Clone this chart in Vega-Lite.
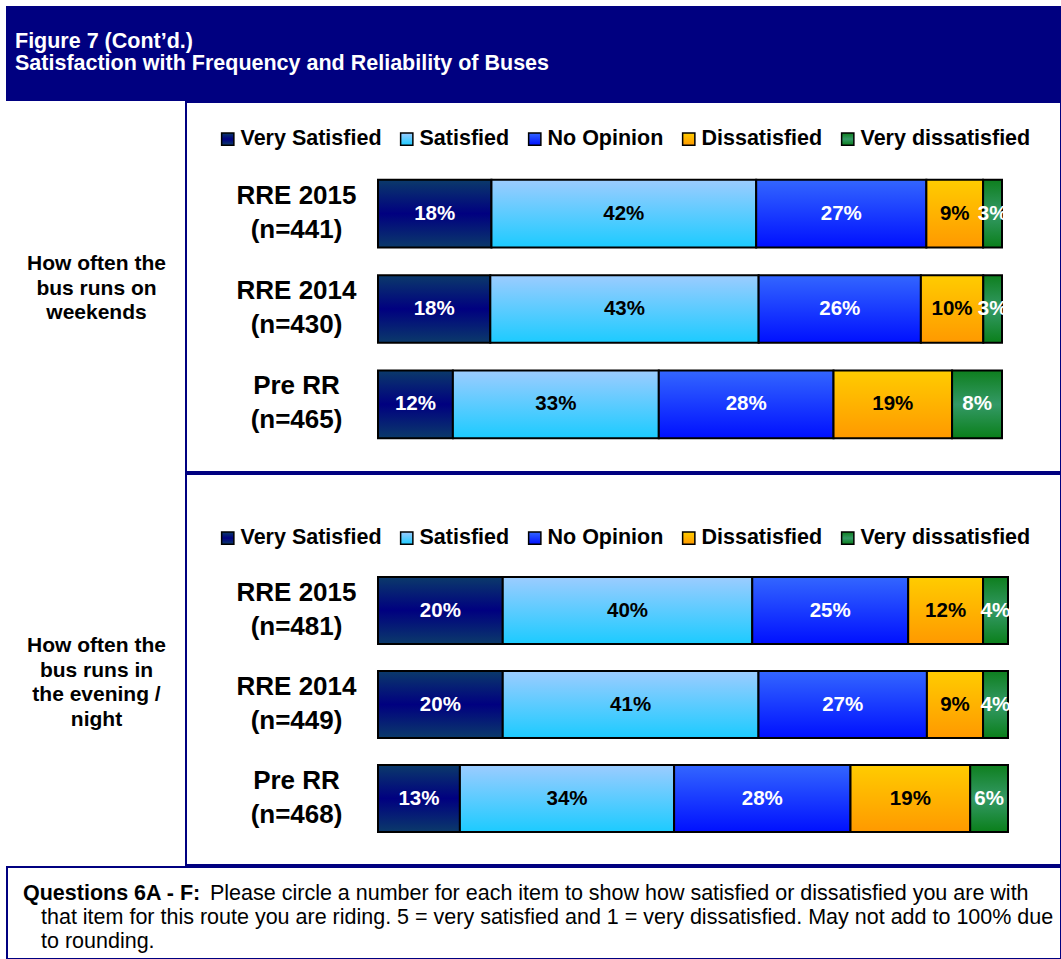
{
  "$schema": "https://vega.github.io/schema/vega-lite/v6.json",
  "background": "white",
  "padding": {"left": 6, "top": 6, "right": 0, "bottom": 0},
  "bounds": "full",
  "spacing": 0,
  "resolve": {"scale": {"color": "independent", "x": "independent", "y": "independent"}, "legend": {"color": "independent"}},
  "config": {
    "font": "Liberation Sans",
    "view": {"stroke": "#000080", "strokeWidth": 2, "fill": "white"}
  },
  "vconcat": [
    {
      "width": 1054,
      "height": 93,
      "view": {"fill": "#000080", "stroke": "#000080"},
      "data": {"values": [{"t": "Figure 7 (Cont’d.)\nSatisfaction with Frequency and Reliability of Buses"}]},
      "mark": {"type": "text", "lineBreak": "\n", "align": "left", "baseline": "alphabetic", "font": "Liberation Sans", "fontWeight": "bold", "fontSize": 21.5, "lineHeight": 22, "color": "white"},
      "encoding": {"text": {"field": "t"}, "x": {"value": 8}, "y": {"value": 41}}
    },
    {
      "hconcat": [
        {
          "width": 179,
          "height": 370,
          "data": {"values": [{"t": "How often the\nbus runs on\nweekends"}]},
          "mark": {"type": "text", "lineBreak": "\n", "align": "center", "baseline": "middle", "font": "Liberation Sans", "fontWeight": "bold", "fontSize": 21, "lineHeight": 24.5, "color": "black", "dy": -23},
          "encoding": {"text": {"field": "t"}}
        },
        {
          "width": 875,
          "height": 370,
          "data": {"values": [
            {"row": "RRE 2015|(n=441)", "cat": "Very Satisfied", "k": 1, "v": 0.18},
            {"row": "RRE 2015|(n=441)", "cat": "Satisfied", "k": 2, "v": 0.42},
            {"row": "RRE 2015|(n=441)", "cat": "No Opinion", "k": 3, "v": 0.27},
            {"row": "RRE 2015|(n=441)", "cat": "Dissatisfied", "k": 4, "v": 0.09},
            {"row": "RRE 2015|(n=441)", "cat": "Very dissatisfied", "k": 5, "v": 0.03},
            {"row": "RRE 2014|(n=430)", "cat": "Very Satisfied", "k": 1, "v": 0.18},
            {"row": "RRE 2014|(n=430)", "cat": "Satisfied", "k": 2, "v": 0.43},
            {"row": "RRE 2014|(n=430)", "cat": "No Opinion", "k": 3, "v": 0.26},
            {"row": "RRE 2014|(n=430)", "cat": "Dissatisfied", "k": 4, "v": 0.10},
            {"row": "RRE 2014|(n=430)", "cat": "Very dissatisfied", "k": 5, "v": 0.03},
            {"row": "Pre RR|(n=465)", "cat": "Very Satisfied", "k": 1, "v": 0.12},
            {"row": "Pre RR|(n=465)", "cat": "Satisfied", "k": 2, "v": 0.33},
            {"row": "Pre RR|(n=465)", "cat": "No Opinion", "k": 3, "v": 0.28},
            {"row": "Pre RR|(n=465)", "cat": "Dissatisfied", "k": 4, "v": 0.19},
            {"row": "Pre RR|(n=465)", "cat": "Very dissatisfied", "k": 5, "v": 0.08}
          ]},
          "encoding": {
            "y": {"field": "row", "type": "nominal", "sort": null,
              "scale": {"range": [64, 350], "paddingInner": 0.29, "paddingOuter": 0.145},
              "axis": {"title": null, "orient": "left", "offset": -110, "domain": false, "ticks": false, "tickSize": 0, "labelPadding": 0, "labelOffset": -18, "labelAlign": "center", "labelBaseline": "middle", "labelFont": "Liberation Sans", "labelFontWeight": "bold", "labelFontSize": 26, "labelColor": "#000", "labelLineHeight": 34, "labelLimit": 0, "grid": false, "labelExpr": "split(datum.label, '|')"}},
            "x": {"field": "v", "type": "quantitative", "stack": "normalize", "scale": {"range": [192, 816], "nice": false}, "axis": null},
            "order": {"field": "k", "type": "quantitative"}
          },
          "layer": [
            {
              "mark": {"type": "bar", "stroke": "#000", "strokeWidth": 2},
              "encoding": {
                "color": {"field": "cat", "type": "nominal",
                  "scale": {
                    "domain": ["Very Satisfied", "Satisfied", "No Opinion", "Dissatisfied", "Very dissatisfied"],
                    "range": [
                      {"expr": "{gradient: 'linear', x1: 0, y1: 0, x2: 0, y2: 1, stops: [{offset: 0, color: '#0b3a6a'}, {offset: 0.5, color: '#000080'}, {offset: 1, color: '#0b3a6a'}]}"},
                      {"expr": "{gradient: 'linear', x1: 0, y1: 0, x2: 0, y2: 1, stops: [{offset: 0, color: '#9cccff'}, {offset: 1, color: '#1ccbff'}]}"},
                      {"expr": "{gradient: 'linear', x1: 0, y1: 0, x2: 0, y2: 1, stops: [{offset: 0, color: '#3366ff'}, {offset: 1, color: '#0010ff'}]}"},
                      {"expr": "{gradient: 'linear', x1: 0, y1: 0, x2: 0, y2: 1, stops: [{offset: 0, color: '#ffcc00'}, {offset: 1, color: '#ff9900'}]}"},
                      {"expr": "{gradient: 'linear', x1: 0, y1: 0, x2: 0, y2: 1, stops: [{offset: 0, color: '#0e7f1e'}, {offset: 0.5, color: '#349966'}, {offset: 1, color: '#0a7f1a'}]}"}
                    ]
                  },
                  "legend": {"title": null, "orient": "none", "legendX": 31, "legendY": 26, "direction": "horizontal", "symbolType": "square", "symbolSize": 150, "symbolStrokeColor": "#000", "symbolStrokeWidth": 1.5, "labelFont": "Liberation Sans", "labelFontWeight": "bold", "labelFontSize": 21.5, "labelColor": "#000", "labelOffset": 2, "columnPadding": 14, "padding": 0, "labelLimit": 400}
                }
              }
            },
            {
              "mark": {"type": "text", "align": "center", "baseline": "middle", "font": "Liberation Sans", "fontWeight": "bold", "fontSize": 20.5},
              "encoding": {
                "x": {"field": "v", "type": "quantitative", "stack": "normalize", "bandPosition": 0.5},
                "text": {"field": "v", "type": "quantitative", "format": ".0%"},
                "color": {"condition": {"test": "datum.cat === 'Satisfied' || datum.cat === 'Dissatisfied'", "value": "#000"}, "value": "#fff"}
              }
            }
          ]
        }
      ],
      "spacing": 0,
      "bounds": "flush",
      "resolve": {"scale": {"color": "independent", "x": "independent", "y": "independent"}, "legend": {"color": "independent"}}
    },
    {
      "hconcat": [
        {
          "width": 179,
          "height": 391,
          "data": {"values": [{"t": "How often the\nbus runs in\nthe evening /\nnight"}]},
          "mark": {"type": "text", "lineBreak": "\n", "align": "center", "baseline": "middle", "font": "Liberation Sans", "fontWeight": "bold", "fontSize": 21, "lineHeight": 24.5, "color": "black", "dy": -23.5},
          "encoding": {"text": {"field": "t"}}
        },
        {
          "width": 875,
          "height": 391,
          "data": {"values": [
            {"row": "RRE 2015|(n=481)", "cat": "Very Satisfied", "k": 1, "v": 0.20},
            {"row": "RRE 2015|(n=481)", "cat": "Satisfied", "k": 2, "v": 0.40},
            {"row": "RRE 2015|(n=481)", "cat": "No Opinion", "k": 3, "v": 0.25},
            {"row": "RRE 2015|(n=481)", "cat": "Dissatisfied", "k": 4, "v": 0.12},
            {"row": "RRE 2015|(n=481)", "cat": "Very dissatisfied", "k": 5, "v": 0.04},
            {"row": "RRE 2014|(n=449)", "cat": "Very Satisfied", "k": 1, "v": 0.20},
            {"row": "RRE 2014|(n=449)", "cat": "Satisfied", "k": 2, "v": 0.41},
            {"row": "RRE 2014|(n=449)", "cat": "No Opinion", "k": 3, "v": 0.27},
            {"row": "RRE 2014|(n=449)", "cat": "Dissatisfied", "k": 4, "v": 0.09},
            {"row": "RRE 2014|(n=449)", "cat": "Very dissatisfied", "k": 5, "v": 0.04},
            {"row": "Pre RR|(n=468)", "cat": "Very Satisfied", "k": 1, "v": 0.13},
            {"row": "Pre RR|(n=468)", "cat": "Satisfied", "k": 2, "v": 0.34},
            {"row": "Pre RR|(n=468)", "cat": "No Opinion", "k": 3, "v": 0.28},
            {"row": "Pre RR|(n=468)", "cat": "Dissatisfied", "k": 4, "v": 0.19},
            {"row": "Pre RR|(n=468)", "cat": "Very dissatisfied", "k": 5, "v": 0.06}
          ]},
          "encoding": {
            "y": {"field": "row", "type": "nominal", "sort": null,
              "scale": {"range": [89.5, 371.5], "paddingInner": 0.287, "paddingOuter": 0.1435},
              "axis": {"title": null, "orient": "left", "offset": -110, "domain": false, "ticks": false, "tickSize": 0, "labelPadding": 0, "labelOffset": -18, "labelAlign": "center", "labelBaseline": "middle", "labelFont": "Liberation Sans", "labelFontWeight": "bold", "labelFontSize": 26, "labelColor": "#000", "labelLineHeight": 34, "labelLimit": 0, "grid": false, "labelExpr": "split(datum.label, '|')"}},
            "x": {"field": "v", "type": "quantitative", "stack": "normalize", "scale": {"range": [192, 822], "nice": false}, "axis": null},
            "order": {"field": "k", "type": "quantitative"}
          },
          "layer": [
            {
              "mark": {"type": "bar", "stroke": "#000", "strokeWidth": 2},
              "encoding": {
                "color": {"field": "cat", "type": "nominal",
                  "scale": {
                    "domain": ["Very Satisfied", "Satisfied", "No Opinion", "Dissatisfied", "Very dissatisfied"],
                    "range": [
                      {"expr": "{gradient: 'linear', x1: 0, y1: 0, x2: 0, y2: 1, stops: [{offset: 0, color: '#0b3a6a'}, {offset: 0.5, color: '#000080'}, {offset: 1, color: '#0b3a6a'}]}"},
                      {"expr": "{gradient: 'linear', x1: 0, y1: 0, x2: 0, y2: 1, stops: [{offset: 0, color: '#9cccff'}, {offset: 1, color: '#1ccbff'}]}"},
                      {"expr": "{gradient: 'linear', x1: 0, y1: 0, x2: 0, y2: 1, stops: [{offset: 0, color: '#3366ff'}, {offset: 1, color: '#0010ff'}]}"},
                      {"expr": "{gradient: 'linear', x1: 0, y1: 0, x2: 0, y2: 1, stops: [{offset: 0, color: '#ffcc00'}, {offset: 1, color: '#ff9900'}]}"},
                      {"expr": "{gradient: 'linear', x1: 0, y1: 0, x2: 0, y2: 1, stops: [{offset: 0, color: '#0e7f1e'}, {offset: 0.5, color: '#349966'}, {offset: 1, color: '#0a7f1a'}]}"}
                    ]
                  },
                  "legend": {"title": null, "orient": "none", "legendX": 31, "legendY": 53, "direction": "horizontal", "symbolType": "square", "symbolSize": 150, "symbolStrokeColor": "#000", "symbolStrokeWidth": 1.5, "labelFont": "Liberation Sans", "labelFontWeight": "bold", "labelFontSize": 21.5, "labelColor": "#000", "labelOffset": 2, "columnPadding": 14, "padding": 0, "labelLimit": 400}
                }
              }
            },
            {
              "mark": {"type": "text", "align": "center", "baseline": "middle", "font": "Liberation Sans", "fontWeight": "bold", "fontSize": 20.5},
              "encoding": {
                "x": {"field": "v", "type": "quantitative", "stack": "normalize", "bandPosition": 0.5},
                "text": {"field": "v", "type": "quantitative", "format": ".0%"},
                "color": {"condition": {"test": "datum.cat === 'Satisfied' || datum.cat === 'Dissatisfied'", "value": "#000"}, "value": "#fff"}
              }
            }
          ]
        }
      ],
      "spacing": 0,
      "bounds": "flush",
      "resolve": {"scale": {"color": "independent", "x": "independent", "y": "independent"}, "legend": {"color": "independent"}}
    },
    {
      "width": 1054,
      "height": 92,
      "layer": [
        {
          "data": {"values": [{"t": "Questions 6A - F:"}]},
          "mark": {"type": "text", "align": "left", "baseline": "alphabetic", "font": "Liberation Sans", "fontWeight": "bold", "fontSize": 21.5, "color": "#000"},
          "encoding": {"text": {"field": "t"}, "x": {"value": 16}, "y": {"value": 33}}
        },
        {
          "data": {"values": [{"t": "Please circle a number for each item to show how satisfied or dissatisfied you are with"}]},
          "mark": {"type": "text", "align": "left", "baseline": "alphabetic", "font": "Liberation Sans", "fontWeight": "normal", "fontSize": 21.5, "color": "#000"},
          "encoding": {"text": {"field": "t"}, "x": {"value": 203}, "y": {"value": 33}}
        },
        {
          "data": {"values": [{"t": "that item for this route you are riding.  5 = very satisfied and 1 = very dissatisfied. May not add to 100% due\nto rounding."}]},
          "mark": {"type": "text", "align": "left", "baseline": "alphabetic", "lineBreak": "\n", "lineHeight": 24, "font": "Liberation Sans", "fontWeight": "normal", "fontSize": 21.5, "color": "#000"},
          "encoding": {"text": {"field": "t"}, "x": {"value": 34}, "y": {"value": 57}}
        }
      ]
    }
  ]
}
